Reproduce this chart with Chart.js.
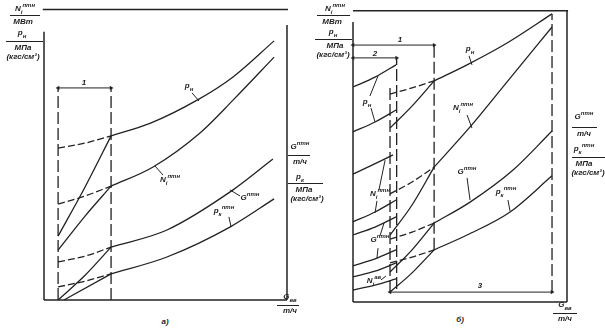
<!DOCTYPE html>
<html>
<head>
<meta charset="utf-8">
<script src="https://cdn.jsdelivr.net/npm/chart.js@4/dist/chart.umd.min.js"></script>
<style>
  body { margin: 0; background: #fff; }
  #wrap { position: relative; width: 605px; height: 332px; overflow: hidden; background: #fff; }
  .panel { position: absolute; top: 0; }
  .t { position: absolute; font: italic bold 8px 'Liberation Sans', Arial, sans-serif; color: #1e1e1e; white-space: nowrap; transform: translateX(-50%); line-height: 9px; }
  .t sub, .t sup { font-size: 6px; line-height: 0; }
  .r { position: absolute; height: 0; border-top: 1.3px solid #222; }
</style>
</head>
<body>
<div id="wrap">
  <div class="panel" style="left:34px;"><canvas id="chartA" width="263" height="310"></canvas></div>
  <div class="panel" style="left:343px;"><canvas id="chartB" width="234" height="312"></canvas></div>

  <!-- panel a: axis labels -->
  <div class="t" style="left:25px;top:4px;">N<sub>i</sub><sup>птн</sup></div>
  <div class="r" style="left:10px;top:15px;width:30px;"></div>
  <div class="t" style="left:23px;top:17px;">МВт</div>
  <div class="t" style="left:22px;top:28px;">p<sub>н</sub></div>
  <div class="r" style="left:6px;top:41px;width:37px;"></div>
  <div class="t" style="left:23px;top:43px;">МПа</div>
  <div class="t" style="left:23px;top:52px;">(кгс/см²)</div>
  <div class="t" style="left:300px;top:142px;">G<sup>птн</sup></div>
  <div class="r" style="left:288px;top:155px;width:22px;"></div>
  <div class="t" style="left:300px;top:157px;">т/ч</div>
  <div class="t" style="left:300px;top:172px;">p<sub>к</sub></div>
  <div class="r" style="left:288px;top:183px;width:35px;"></div>
  <div class="t" style="left:304px;top:185px;">МПа</div>
  <div class="t" style="left:307px;top:194px;">(кгс/см²)</div>
  <div class="t" style="left:290px;top:292px;">G<sub>вв</sub></div>
  <div class="r" style="left:277px;top:305px;width:22px;"></div>
  <div class="t" style="left:290px;top:306px;">т/ч</div>
  <div class="t" style="left:165px;top:317px;">а)</div>

  <!-- panel a: curve labels -->
  <div class="t" style="left:84px;top:78px;">1</div>
  <div class="t" style="left:189px;top:81px;">p<sub>н</sub></div>
  <div class="t" style="left:170px;top:175px;">N<sub>i</sub><sup>птн</sup></div>
  <div class="t" style="left:250px;top:193px;">G<sup>птн</sup></div>
  <div class="t" style="left:224px;top:206px;">p<sub>к</sub><sup>птн</sup></div>

  <!-- panel б: axis labels -->
  <div class="t" style="left:335px;top:4px;">N<sub>i</sub><sup>птн</sup></div>
  <div class="r" style="left:317px;top:15px;width:33px;"></div>
  <div class="t" style="left:332px;top:17px;">МВт</div>
  <div class="t" style="left:333px;top:27px;">p<sub>н</sub></div>
  <div class="r" style="left:315px;top:39px;width:37px;"></div>
  <div class="t" style="left:335px;top:41px;">МПа</div>
  <div class="t" style="left:333px;top:50px;">(кгс/см²)</div>
  <div class="t" style="left:584px;top:112px;">G<sup>птн</sup></div>
  <div class="r" style="left:572px;top:127px;width:25px;"></div>
  <div class="t" style="left:584px;top:129px;">т/ч</div>
  <div class="t" style="left:584px;top:144px;">p<sub>к</sub><sup>птн</sup></div>
  <div class="r" style="left:572px;top:157px;width:33px;"></div>
  <div class="t" style="left:584px;top:159px;">МПа</div>
  <div class="t" style="left:588px;top:168px;">(кгс/см²)</div>
  <div class="t" style="left:565px;top:300px;">G<sub>вв</sub></div>
  <div class="r" style="left:553px;top:313px;width:24px;"></div>
  <div class="t" style="left:565px;top:314px;">т/ч</div>
  <div class="t" style="left:460px;top:315px;">б)</div>

  <!-- panel б: curve labels -->
  <div class="t" style="left:400px;top:35px;">1</div>
  <div class="t" style="left:375px;top:49px;">2</div>
  <div class="t" style="left:480px;top:281px;">3</div>
  <div class="t" style="left:470px;top:44px;">p<sub>н</sub></div>
  <div class="t" style="left:463px;top:103px;">N<sub>i</sub><sup>птн</sup></div>
  <div class="t" style="left:467px;top:167px;">G<sup>птн</sup></div>
  <div class="t" style="left:506px;top:187px;">p<sub>к</sub><sup>птн</sup></div>
  <div class="t" style="left:367px;top:97px;">p<sub>н</sub></div>
  <div class="t" style="left:380px;top:189px;">N<sub>i</sub><sup>птн</sup></div>
  <div class="t" style="left:380px;top:235px;">G<sup>птн</sup></div>
  <div class="t" style="left:374px;top:276px;">N<sub>i</sub><sup>ав</sup></div>
</div>

<script>
// all values in relative units: x = G_вв, 0..100 across each panel; y = 0..100 up to the top rule

// ---- panel a ----
const aAxisLeft = [[0, 0], [0, 92.3]];
const aAxisBottom = [[0, 0], [100, 0]];
const aAxisRight = [[100, 0], [100, 94.7]];
const aAxisTop = [[-0.5, 100], [100.4, 100]];
const aZoneStart = [[5.8, 0], [5.8, 73]];
const aZoneEnd = [[27.6, 0], [27.6, 73]];
const aZoneDim = [[5.8, 73], [27.6, 73]];

const aPn = [[27.6, 56.5], [43.6, 60.8], [63.0, 68.8], [77.8, 76.8], [94.7, 89.2]];
const aPnDash = [[5.8, 52.3], [16.9, 54.0], [27.6, 56.5]];
const aNi = [[27.6, 39.2], [44.9, 45.8], [64.2, 57.5], [77.8, 68.8], [94.7, 83.6]];
const aNiDash = [[5.8, 33.0], [16.9, 35.8], [27.6, 39.2]];
const aG = [[27.6, 18.2], [50.6, 24.1], [77.8, 37.9], [94.2, 48.5]];
const aGDash = [[5.8, 13.1], [16.9, 15.1], [27.6, 18.2]];
const aPk = [[27.6, 9.0], [50.6, 14.8], [76.5, 25.1], [94.7, 34.8]];
const aPkDash = [[5.8, 4.5], [16.9, 6.5], [27.6, 9.0]];

// start-up lines inside zone 1
const aRisePn = [[5.8, 22.0], [16.9, 38.9], [27.6, 56.5]];
const aRiseNi = [[5.8, 17.2], [16.9, 28.9], [27.6, 39.2]];
const aRiseG = [[5.8, 0], [16.9, 8.5], [27.6, 18.2]];
const aRisePk = [[8.2, 0], [27.6, 9.0]];

const aLeaders = [
  [[60.9, 71.3], [63.8, 68.5]],
  [[45.7, 46.1], [49.0, 43.0]],
  [[76.5, 37.9], [80.7, 35.8]],
  [[76.1, 28.6], [77.0, 25.1]]
];

// ---- panel б ----
const bAxisLeft = [[0, 0], [0, 96.1]];
const bAxisBottom = [[0, 0], [100, 0]];
const bAxisRight = [[100, 0], [100, 100]];
const bAxisTop = [[0, 100], [100.5, 100]];
const bZone1End = [[37.9, 17.9], [37.9, 88.9]];
const bZone1Dim = [[0, 88.2], [37.9, 88.2]];
const bZone2End = [[20.4, 4.5], [20.4, 83.8]];
const bZone2Dim = [[0, 83.8], [20.4, 83.8]];
const bZone3Start = [[17.3, 3.4], [17.3, 73.5]];
const bZone3End = [[93.0, 3.4], [93.0, 98.9]];
const bZone3Dim = [[17.3, 3.4], [93.0, 3.4]];

const bPn = [[37.9, 75.9], [53.3, 81.4], [72.0, 88.9], [93.0, 98.9]];
const bPnDash = [[17.3, 71.4], [27.6, 73.5], [37.9, 75.9]];
const bNi = [[37.9, 46.3], [54.7, 60.1], [71.9, 75.5], [93.0, 94.4]];
const bNiDash = [[17.3, 37.1], [27.6, 41.2], [37.9, 46.3]];
const bG = [[37.9, 27.1], [54.7, 34.3], [74.8, 45.3], [93.0, 58.7]];
const bGDash = [[17.3, 21.6], [27.6, 24.0], [37.9, 27.1]];
const bPk = [[37.9, 17.9], [53.3, 23.0], [73.4, 30.9], [93.0, 43.3]];
const bPkDash = [[17.3, 13.4], [27.6, 15.4], [37.9, 17.9]];

const bRisePn = [[17.3, 59.7], [28.0, 67.6], [37.9, 75.9]];
const bRiseNi = [[17.3, 23.0], [27.6, 33.3], [37.9, 46.3]];
const bRiseG = [[17.3, 10.3], [27.6, 17.9], [37.9, 27.1]];
const bRisePk = [[17.3, 3.4], [27.6, 10.0], [37.9, 17.9]];

// zone 2: pairs of curves for p_н, N_i, G and N_i(ав)
const bZone2Curves = [
  [[0, 73.8], [10.3, 77.2], [20.1, 81.4]],
  [[0, 58.4], [10.3, 61.8], [20.1, 65.9]],
  [[0, 43.9], [8.9, 47.0], [18.7, 50.5]],
  [[0, 27.5], [10.3, 30.9], [20.1, 35.0]],
  [[0, 23.0], [10.3, 25.7], [20.1, 29.2]],
  [[0, 12.4], [10.3, 14.8], [20.1, 17.9]],
  [[0, 8.6], [10.3, 10.6], [20.1, 13.4]],
  [[0, 4.1], [10.3, 5.8], [20.1, 7.9]]
];

const bLeaders = [
  [[54.2, 84.5], [55.6, 81.4]],
  [[53.3, 64.2], [55.6, 59.7]],
  [[53.3, 42.6], [54.7, 35.0]],
  [[72.4, 35.0], [73.4, 31.2]],
  [[7.9, 70.7], [11.7, 77.6]],
  [[8.4, 66.6], [10.3, 61.8]],
  [[15.0, 48.7], [12.1, 38.4]],
  [[11.2, 34.7], [10.3, 30.6]],
  [[14.5, 27.1], [12.6, 22.7]],
  [[11.7, 18.5], [11.2, 15.1]],
  [[13.1, 7.6], [15.4, 8.9]]
];

const ink = '#222';
const dash = [7, 3];
const longDash = [12, 4];

function line(points, extra) {
  return Object.assign({
    data: points.map(([x, y]) => ({ x, y })),
    showLine: true,
    borderColor: ink,
    borderWidth: 1.3,
    pointRadius: 0,
    cubicInterpolationMode: 'monotone',
    clip: false,
    fill: false
  }, extra || {});
}

// dimension line with arrow heads at both ends
function dim(points) {
  return line(points, {
    borderWidth: 1,
    cubicInterpolationMode: 'default',
    tension: 0,
    pointRadius: 2.5,
    pointStyle: 'triangle',
    rotation: [-90, 90],
    pointBackgroundColor: ink,
    pointBorderWidth: 0
  });
}

function makeChart(id, datasets, pad) {
  return new Chart(document.getElementById(id), {
    type: 'scatter',
    data: { datasets },
    options: {
      responsive: false,
      animation: false,
      events: [],
      layout: { padding: pad },
      plugins: { legend: { display: false }, tooltip: { enabled: false } },
      scales: {
        x: { type: 'linear', display: false, min: 0, max: 100 },
        y: { type: 'linear', display: false, min: 0, max: 100 }
      }
    }
  });
}

const frame = { borderWidth: 1.5, cubicInterpolationMode: 'default', tension: 0 };
const straight = { cubicInterpolationMode: 'default', tension: 0 };

makeChart('chartA', [
  line(aAxisLeft, frame), line(aAxisBottom, frame), line(aAxisRight, frame), line(aAxisTop, frame),
  line(aZoneStart, { ...straight, borderDash: longDash }),
  line(aZoneEnd, { ...straight, borderDash: longDash }),
  dim(aZoneDim),
  line(aPn), line(aPnDash, { borderDash: dash }),
  line(aNi), line(aNiDash, { borderDash: dash }),
  line(aG), line(aGDash, { borderDash: dash }),
  line(aPk), line(aPkDash, { borderDash: dash }),
  line(aRisePn), line(aRiseNi), line(aRiseG), line(aRisePk),
  ...aLeaders.map(p => line(p, { ...straight, borderWidth: 1 }))
], { left: 10, right: 10, top: 9.5, bottom: 10 });

makeChart('chartB', [
  line(bAxisLeft, frame), line(bAxisBottom, frame), line(bAxisRight, frame), line(bAxisTop, frame),
  line(bZone1End, { ...straight, borderDash: longDash }),
  dim(bZone1Dim),
  line(bZone2End, { ...straight, borderDash: longDash }),
  dim(bZone2Dim),
  line(bZone3Start, { ...straight, borderDash: longDash }),
  line(bZone3End, { ...straight, borderDash: longDash }),
  dim(bZone3Dim),
  line(bPn), line(bPnDash, { borderDash: dash }),
  line(bNi), line(bNiDash, { borderDash: dash }),
  line(bG), line(bGDash, { borderDash: dash }),
  line(bPk), line(bPkDash, { borderDash: dash }),
  line(bRisePn), line(bRiseNi), line(bRiseG), line(bRisePk),
  ...bZone2Curves.map(p => line(p)),
  ...bLeaders.map(p => line(p, { ...straight, borderWidth: 1 }))
], { left: 10, right: 10, top: 10.7, bottom: 10 });
</script>
</body>
</html>
